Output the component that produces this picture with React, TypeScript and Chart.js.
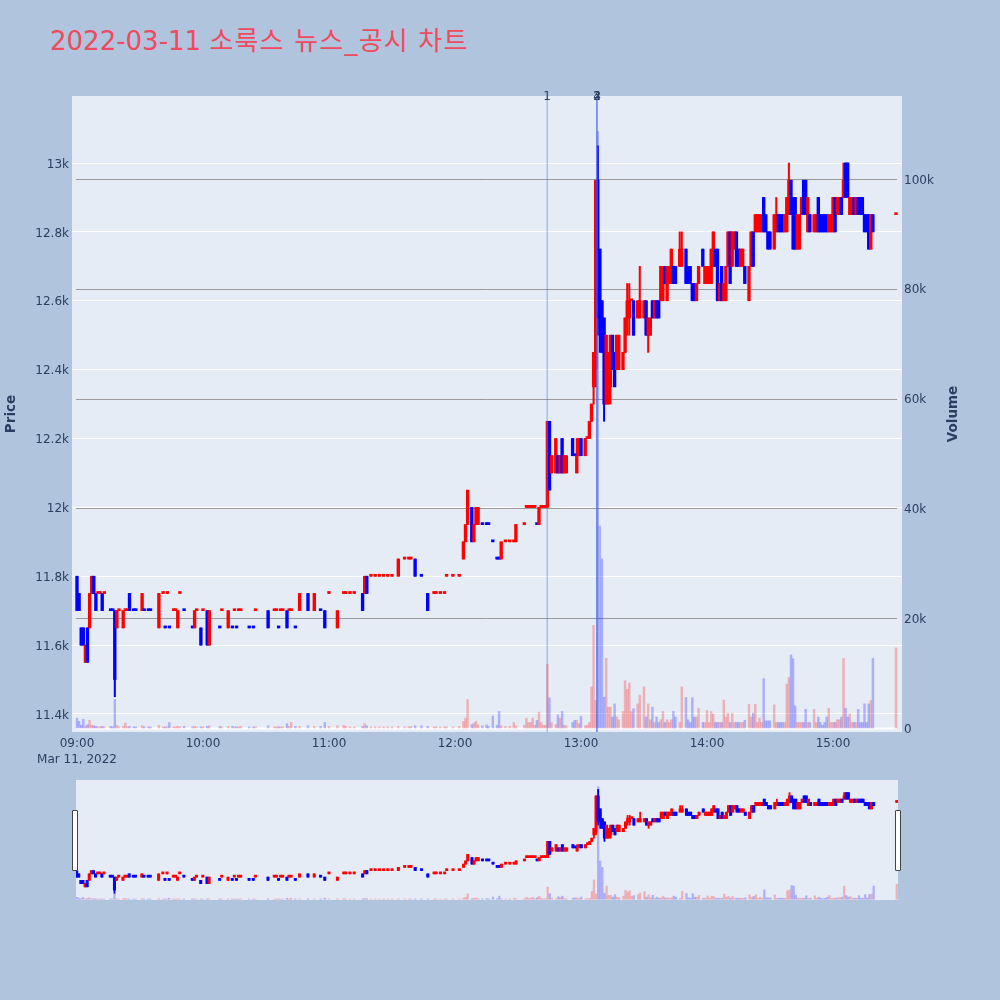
import React, { useEffect, useRef } from 'react';
import { Chart, registerables } from 'chart.js';

Chart.register(...registerables);

// ---- data: minute offset from 09:00, OHLC prices (KRW), volume (thousand shares) ----
const minutes = [
  0, 1, 2, 3, 4, 5, 6, 7, 8, 9,
  10, 11, 12, 13, 16, 17, 18, 19, 20, 22,
  23, 24, 25, 27, 28, 31, 32, 34, 35, 39,
  41, 42, 43, 44, 46, 47, 48, 49, 51, 55,
  56, 57, 59, 60, 62, 63, 68, 69, 72, 74,
  75, 76, 77, 78, 82, 84, 85, 91, 94, 95,
  96, 97, 98, 100, 101, 102, 104, 106, 110, 113,
  116, 118, 120, 124, 127, 128, 130, 132, 136, 137,
  138, 140, 142, 144, 146, 148, 150, 153, 156, 158,
  159, 161, 164, 167, 170, 171, 173, 175, 176, 179,
  182, 184, 185, 186, 188, 189, 190, 191, 193, 195,
  196, 198, 200, 201, 202, 204, 206, 208, 209, 213,
  214, 215, 216, 217, 218, 219, 220, 221, 222, 223,
  224, 225, 226, 228, 229, 230, 231, 232, 233, 236,
  237, 238, 239, 240, 242, 243, 244, 245, 246, 247,
  248, 249, 250, 251, 252, 253, 254, 255, 256, 257,
  258, 260, 261, 262, 263, 264, 265, 267, 268, 270,
  271, 272, 273, 274, 275, 276, 277, 278, 279, 280,
  281, 282, 283, 284, 285, 287, 288, 290, 291, 292,
  293, 294, 295, 296, 298, 299, 300, 301, 302, 303,
  304, 305, 306, 307, 308, 309, 310, 311, 312, 313,
  314, 315, 316, 317, 318, 320, 321, 322, 323, 324,
  325, 326, 327, 328, 329, 330, 332, 333, 334, 335,
  336, 337, 338, 339, 340, 341, 342, 343, 344, 345,
  346, 347, 348, 349, 351, 352, 353, 354, 355, 356,
  357, 358, 359, 360, 361, 362, 363, 364, 365, 366,
  367, 368, 369, 370, 371, 372, 373, 374, 375, 376,
  377, 378, 379, 390,
];

const opens = [
  11800, 11750, 11650, 11650, 11550, 11650, 11650, 11750, 11800, 11750,
  11750, 11750, 11750, 11750, 11700, 11700, 11700, 11650, 11700, 11650,
  11700, 11700, 11750, 11700, 11700, 11700, 11700, 11700, 11700, 11650,
  11750, 11650, 11750, 11650, 11700, 11700, 11650, 11750, 11700, 11650,
  11650, 11700, 11650, 11700, 11700, 11600, 11650, 11700, 11650, 11650,
  11700, 11650, 11700, 11700, 11650, 11650, 11700, 11700, 11700, 11700,
  11650, 11700, 11700, 11700, 11700, 11700, 11650, 11700, 11750, 11700,
  11700, 11700, 11750, 11650, 11750, 11750, 11750, 11750, 11750, 11750,
  11800, 11800, 11800, 11800, 11800, 11800, 11800, 11800, 11850, 11850,
  11850, 11850, 11800, 11750, 11750, 11750, 11750, 11750, 11800, 11800,
  11800, 11850, 11900, 11950, 12000, 11900, 11950, 11950, 11950, 11950,
  11950, 11900, 11850, 11850, 11850, 11900, 11900, 11900, 11900, 11950,
  12000, 12000, 12000, 12000, 12000, 11950, 11950, 12000, 12000, 12000,
  12000, 12250, 12100, 12100, 12150, 12100, 12200, 12100, 12100, 12200,
  12150, 12100, 12150, 12200, 12150, 12200, 12200, 12250, 12350, 12400,
  12950, 12750, 12600, 12550, 12300, 12300, 12350, 12500, 12450, 12400,
  12400, 12400, 12450, 12550, 12550, 12600, 12600, 12550, 12550, 12550,
  12600, 12500, 12500, 12600, 12550, 12600, 12600, 12600, 12600, 12700,
  12600, 12650, 12650, 12700, 12700, 12700, 12700, 12750, 12700, 12700,
  12650, 12650, 12600, 12650, 12750, 12650, 12650, 12650, 12650, 12700,
  12750, 12750, 12600, 12700, 12600, 12600, 12700, 12800, 12700, 12750,
  12800, 12750, 12700, 12700, 12700, 12600, 12700, 12800, 12800, 12800,
  12800, 12800, 12900, 12850, 12800, 12800, 12750, 12800, 12850, 12850,
  12850, 12800, 12800, 12850, 12950, 12900, 12900, 12750, 12750, 12850,
  12950, 12950, 12800, 12850, 12800, 12800, 12900, 12850, 12850, 12850,
  12850, 12800, 12800, 12800, 12900, 12850, 12850, 12900, 12900, 13000,
  13000, 12850, 12850, 12900, 12850, 12900, 12900, 12900, 12850, 12850,
  12850, 12750, 12850, 12850,
];

const highs = [
  11800, 11750, 11650, 11650, 11600, 11650, 11750, 11800, 11800, 11750,
  11750, 11750, 11750, 11750, 11700, 11700, 11700, 11700, 11700, 11700,
  11700, 11700, 11750, 11700, 11700, 11750, 11700, 11700, 11700, 11750,
  11750, 11650, 11750, 11650, 11700, 11700, 11700, 11750, 11700, 11650,
  11700, 11700, 11650, 11700, 11700, 11700, 11650, 11700, 11700, 11650,
  11700, 11650, 11700, 11700, 11650, 11650, 11700, 11700, 11700, 11700,
  11650, 11700, 11700, 11700, 11700, 11700, 11650, 11750, 11750, 11750,
  11700, 11700, 11750, 11700, 11750, 11750, 11750, 11750, 11750, 11800,
  11800, 11800, 11800, 11800, 11800, 11800, 11800, 11850, 11850, 11850,
  11850, 11850, 11800, 11750, 11750, 11750, 11750, 11750, 11800, 11800,
  11800, 11900, 11950, 12050, 12000, 11950, 12000, 12000, 11950, 11950,
  11950, 11900, 11850, 11850, 11900, 11900, 11900, 11900, 11950, 11950,
  12000, 12000, 12000, 12000, 12000, 11950, 12000, 12000, 12000, 12000,
  12250, 12250, 12150, 12200, 12150, 12150, 12200, 12150, 12150, 12200,
  12150, 12200, 12200, 12200, 12200, 12200, 12250, 12300, 12450, 12950,
  13050, 12750, 12600, 12550, 12500, 12450, 12500, 12500, 12450, 12500,
  12500, 12450, 12550, 12650, 12650, 12600, 12600, 12600, 12700, 12600,
  12600, 12550, 12550, 12600, 12600, 12600, 12600, 12700, 12700, 12700,
  12700, 12700, 12750, 12700, 12700, 12800, 12800, 12750, 12700, 12700,
  12650, 12650, 12650, 12700, 12750, 12700, 12700, 12700, 12750, 12800,
  12750, 12750, 12650, 12700, 12650, 12700, 12800, 12800, 12800, 12800,
  12800, 12750, 12750, 12750, 12700, 12700, 12800, 12800, 12850, 12850,
  12850, 12850, 12900, 12850, 12800, 12800, 12850, 12900, 12850, 12850,
  12850, 12850, 12900, 13000, 12950, 12900, 12900, 12850, 12850, 12900,
  12950, 12950, 12900, 12850, 12850, 12850, 12900, 12850, 12850, 12850,
  12850, 12850, 12850, 12900, 12900, 12900, 12900, 12900, 13000, 13000,
  13000, 12900, 12900, 12900, 12900, 12900, 12900, 12900, 12850, 12850,
  12850, 12850, 12850, 12850,
];

const lows = [
  11700, 11700, 11600, 11600, 11550, 11550, 11650, 11750, 11750, 11700,
  11750, 11750, 11700, 11750, 11700, 11700, 11450, 11650, 11700, 11650,
  11700, 11700, 11700, 11700, 11700, 11700, 11700, 11700, 11700, 11650,
  11750, 11650, 11750, 11650, 11700, 11700, 11650, 11750, 11700, 11650,
  11650, 11700, 11600, 11700, 11600, 11600, 11650, 11700, 11650, 11650,
  11700, 11650, 11700, 11700, 11650, 11650, 11700, 11650, 11700, 11700,
  11650, 11700, 11700, 11650, 11700, 11700, 11650, 11700, 11700, 11700,
  11700, 11650, 11750, 11650, 11750, 11750, 11750, 11750, 11700, 11750,
  11750, 11800, 11800, 11800, 11800, 11800, 11800, 11800, 11850, 11850,
  11850, 11800, 11800, 11700, 11750, 11750, 11750, 11750, 11800, 11800,
  11800, 11850, 11900, 11950, 11900, 11900, 11950, 11950, 11950, 11950,
  11950, 11900, 11850, 11850, 11850, 11900, 11900, 11900, 11900, 11950,
  12000, 12000, 12000, 12000, 12000, 11950, 11950, 12000, 12000, 12000,
  12000, 12050, 12100, 12100, 12100, 12100, 12100, 12100, 12100, 12150,
  12150, 12100, 12150, 12150, 12150, 12200, 12200, 12250, 12300, 12350,
  12500, 12450, 12450, 12250, 12300, 12300, 12300, 12400, 12350, 12400,
  12400, 12400, 12450, 12500, 12500, 12600, 12500, 12550, 12550, 12550,
  12500, 12450, 12500, 12550, 12550, 12550, 12550, 12600, 12600, 12650,
  12600, 12650, 12650, 12650, 12650, 12700, 12700, 12650, 12650, 12650,
  12600, 12600, 12600, 12650, 12700, 12650, 12650, 12650, 12650, 12700,
  12700, 12600, 12600, 12600, 12600, 12600, 12700, 12650, 12700, 12750,
  12700, 12700, 12700, 12700, 12650, 12600, 12700, 12700, 12800, 12800,
  12800, 12800, 12800, 12800, 12750, 12750, 12750, 12800, 12800, 12800,
  12800, 12800, 12800, 12850, 12850, 12750, 12750, 12750, 12750, 12850,
  12850, 12850, 12800, 12800, 12800, 12800, 12800, 12800, 12800, 12800,
  12800, 12800, 12800, 12800, 12800, 12850, 12850, 12850, 12900, 12900,
  12900, 12850, 12850, 12850, 12850, 12850, 12850, 12850, 12800, 12800,
  12750, 12750, 12800, 12850,
];

const closes = [
  11700, 11700, 11600, 11600, 11600, 11550, 11750, 11800, 11750, 11700,
  11750, 11750, 11700, 11750, 11700, 11700, 11500, 11700, 11700, 11700,
  11700, 11700, 11700, 11700, 11700, 11750, 11700, 11700, 11700, 11750,
  11750, 11650, 11750, 11650, 11700, 11700, 11700, 11750, 11700, 11650,
  11700, 11700, 11600, 11700, 11600, 11700, 11650, 11700, 11700, 11650,
  11700, 11650, 11700, 11700, 11650, 11650, 11700, 11650, 11700, 11700,
  11650, 11700, 11700, 11650, 11700, 11700, 11650, 11750, 11700, 11750,
  11700, 11650, 11750, 11700, 11750, 11750, 11750, 11750, 11700, 11800,
  11750, 11800, 11800, 11800, 11800, 11800, 11800, 11850, 11850, 11850,
  11850, 11800, 11800, 11700, 11750, 11750, 11750, 11750, 11800, 11800,
  11800, 11900, 11950, 12050, 11900, 11950, 12000, 12000, 11950, 11950,
  11950, 11900, 11850, 11850, 11900, 11900, 11900, 11900, 11950, 11950,
  12000, 12000, 12000, 12000, 12000, 11950, 12000, 12000, 12000, 12000,
  12250, 12050, 12150, 12200, 12100, 12150, 12100, 12150, 12150, 12150,
  12150, 12150, 12200, 12150, 12200, 12200, 12250, 12300, 12450, 12950,
  12550, 12550, 12450, 12300, 12500, 12450, 12500, 12400, 12350, 12500,
  12500, 12450, 12550, 12600, 12600, 12600, 12500, 12600, 12600, 12600,
  12500, 12550, 12550, 12550, 12600, 12550, 12550, 12700, 12700, 12650,
  12700, 12700, 12750, 12650, 12650, 12750, 12750, 12650, 12650, 12650,
  12600, 12600, 12650, 12700, 12700, 12700, 12700, 12700, 12750, 12800,
  12700, 12600, 12650, 12600, 12650, 12700, 12800, 12650, 12800, 12800,
  12700, 12700, 12750, 12750, 12650, 12700, 12800, 12700, 12850, 12850,
  12850, 12850, 12800, 12800, 12750, 12750, 12850, 12850, 12800, 12800,
  12800, 12850, 12900, 12950, 12850, 12750, 12750, 12850, 12850, 12900,
  12850, 12850, 12900, 12800, 12850, 12850, 12800, 12800, 12800, 12800,
  12800, 12850, 12850, 12900, 12800, 12900, 12900, 12850, 12950, 12900,
  12900, 12900, 12900, 12850, 12900, 12850, 12850, 12850, 12800, 12800,
  12750, 12850, 12800, 12850,
];

const volumesK = [
  1.8, 1.2, 0.5, 1.6, 0.4, 0.6, 1.4, 0.5, 0.4, 0.3,
  0.2, 0.2, 0.3, 0.2, 0.3, 0.2, 5.2, 0.5, 0.2, 0.3,
  0.9, 0.2, 0.3, 0.2, 0.2, 0.4, 0.2, 0.2, 0.2, 0.5,
  0.2, 0.2, 0.2, 1.0, 0.2, 0.2, 0.3, 0.2, 0.3, 0.2,
  0.3, 0.2, 0.2, 0.2, 0.3, 0.4, 0.3, 0.2, 0.3, 0.3,
  0.2, 0.2, 0.2, 0.3, 0.2, 0.2, 0.2, 0.4, 0.2, 0.2,
  0.2, 0.2, 0.2, 0.8, 0.3, 1.0, 0.3, 0.3, 0.4, 0.3,
  0.3, 1.0, 0.3, 0.4, 0.5, 0.3, 0.2, 0.2, 0.3, 0.8,
  0.4, 0.2, 0.2, 0.2, 0.2, 0.2, 0.2, 0.3, 0.2, 0.2,
  0.3, 0.4, 0.4, 0.3, 0.2, 0.2, 0.2, 0.2, 0.2, 0.2,
  0.3, 1.2, 1.8, 5.2, 0.6, 0.9, 1.2, 0.6, 0.4, 0.6,
  0.3, 2.2, 0.5, 3.0, 0.4, 0.3, 0.3, 1.0, 0.4, 0.5,
  1.8, 1.0, 1.0, 1.8, 0.5, 1.4, 2.9, 1.0, 0.5, 0.5,
  11.6, 5.5, 1.0, 0.6, 2.4, 1.8, 3.0, 0.5, 0.4, 1.0,
  1.4, 1.4, 0.8, 2.1, 0.4, 0.5, 1.0, 7.5, 18.7, 5.0,
  108.7, 36.8, 30.8, 5.6, 12.7, 3.8, 3.8, 2.0, 4.4, 2.0,
  1.5, 3.0, 8.6, 7.0, 8.2, 3.0, 3.5, 4.4, 6.0, 7.5,
  2.0, 4.4, 1.5, 3.8, 1.0, 2.0, 1.0, 1.5, 3.0, 1.0,
  1.5, 1.0, 1.5, 3.0, 2.0, 1.0, 7.5, 5.6, 1.5, 1.0,
  5.5, 2.0, 2.0, 3.6, 1.0, 1.0, 3.2, 1.0, 3.0, 2.5,
  1.0, 1.0, 1.0, 1.0, 5.1, 2.0, 2.7, 1.0, 2.7, 1.0,
  1.0, 1.0, 1.0, 1.0, 1.4, 4.3, 2.0, 2.7, 4.3, 1.0,
  1.8, 1.0, 9.0, 1.3, 1.3, 1.3, 4.2, 1.0, 1.0, 1.0,
  1.0, 1.0, 8.0, 9.2, 13.3, 12.6, 4.0, 1.0, 1.0, 1.0,
  1.0, 3.4, 1.0, 1.0, 3.4, 1.0, 2.0, 1.0, 0.5, 1.0,
  2.0, 3.6, 1.0, 1.0, 1.0, 1.5, 1.5, 2.0, 12.7, 3.6,
  2.0, 2.6, 1.0, 1.0, 1.0, 3.4, 1.0, 1.0, 4.4, 1.0,
  4.4, 5.0, 12.7, 14.6,
];

// news / disclosure markers (minutes after 09:00)
const eventMinutes = [223.9, 247.6, 247.6, 247.6];
const eventLabels = ['1', '2', '3', '4'];

const xTickValues = [0, 60, 120, 180, 240, 300, 360];
const xTickLabels = ['09:00', '10:00', '11:00', '12:00', '13:00', '14:00', '15:00'];
const dateLabel = 'Mar 11, 2022';
const priceTicks = [11400, 11600, 11800, 12000, 12200, 12400, 12600, 12800, 13000];
const priceTickLabels = ['11.4k', '11.6k', '11.8k', '12k', '12.2k', '12.4k', '12.6k', '12.8k', '13k'];
const volumeTicks = [0, 20, 40, 60, 80, 100];
const volumeTickLabels = ['0', '20k', '40k', '60k', '80k', '100k'];

const titleDate = '2022-03-11';
const titleName = '소룩스 뉴스_공시 차트';

// ---- styling ----
const PRICE_MIN = 11347.7;
const PRICE_MAX = 13194.6;
const VOL_MIN = -0.73;
const VOL_MAX = 115.12;
const X_MIN = -2.38;
const X_MAX = 392.86;
const SLIDER_X_MIN = -0.3;
const SLIDER_X_MAX = 390.6;

const UP = '#ff0000';
const DOWN = '#0000ff';
const UP_VOL = 'rgba(255,0,0,0.25)';
const DOWN_VOL = 'rgba(0,0,255,0.25)';
const PLOT_BG = '#e5ecf6';
const PAGE_BG = '#b0c4de';
const TEXT = '#2a3f5f';
const VOL_GRID = '#9a9a9a';
const FONT = "'DejaVu Sans', 'Noto Sans CJK KR', sans-serif";

function directions(): number[] {
  const out: number[] = [];
  let prevDir = -1;
  for (let i = 0; i < minutes.length; i++) {
    const o = opens[i];
    const c = closes[i];
    const pc = i > 0 ? closes[i - 1] : c;
    let d: number;
    if (c > o) d = 1;
    else if (c < o) d = -1;
    else if (c > pc) d = 1;
    else if (c < pc) d = -1;
    else d = prevDir;
    out.push(d);
    prevDir = d;
  }
  return out;
}

function makeDatasets(bodyW: number, wickW: number, volW: number) {
  const dirs = directions();
  const colors = dirs.map((d) => (d > 0 ? UP : DOWN));
  const volColors = dirs.map((d) => (d > 0 ? UP_VOL : DOWN_VOL));
  return [
    {
      type: 'bar',
      data: minutes.map((m, i) => ({ x: m, y: volumesK[i] })),
      yAxisID: 'y2',
      backgroundColor: volColors,
      barThickness: volW,
      grouped: false,
      order: 3,
      borderWidth: 0,
    },
    {
      type: 'bar',
      data: minutes.map((m, i) => ({ x: m, y: [lows[i], highs[i]] })),
      yAxisID: 'y',
      backgroundColor: colors,
      barThickness: wickW,
      grouped: false,
      order: 2,
      borderWidth: 0,
      minBarLength: 1,
    },
    {
      type: 'bar',
      data: minutes.map((m, i) => ({
        x: m,
        y: [Math.min(opens[i], closes[i]), Math.max(opens[i], closes[i])],
      })),
      yAxisID: 'y',
      backgroundColor: colors,
      barThickness: bodyW,
      grouped: false,
      order: 1,
      borderWidth: 0,
      minBarLength: 2,
    },
  ];
}

const plotBgPlugin = {
  id: 'plotBg',
  beforeDraw(chart: any) {
    const { ctx, chartArea } = chart;
    ctx.save();
    ctx.fillStyle = PLOT_BG;
    ctx.fillRect(chartArea.left, chartArea.top, chartArea.right - chartArea.left, chartArea.bottom - chartArea.top);
    ctx.restore();
  },
};

// volume grid lines span the traded-minute range, zero line in white
const volumeGridPlugin = {
  id: 'volumeGrid',
  beforeDatasetsDraw(chart: any) {
    const { ctx, scales } = chart;
    const x0 = scales.x.getPixelForValue(minutes[0] - 0.5);
    const x1 = scales.x.getPixelForValue(minutes[minutes.length - 1] + 0.5);
    ctx.save();
    volumeTicks.forEach((v) => {
      const y = Math.round(scales.y2.getPixelForValue(v)) + 0.5;
      ctx.strokeStyle = v === 0 ? '#ffffff' : VOL_GRID;
      ctx.lineWidth = v === 0 ? 2 : 1;
      ctx.beginPath();
      ctx.moveTo(x0, y);
      ctx.lineTo(x1, y);
      ctx.stroke();
    });
    ctx.restore();
  },
};

const overlayPlugin = {
  id: 'overlay',
  afterDatasetsDraw(chart: any) {
    const { ctx, chartArea, scales } = chart;
    ctx.save();
    ctx.strokeStyle = 'rgba(65,105,225,0.55)';
    ctx.lineWidth = 1;
    eventMinutes.forEach((m) => {
      const x = scales.x.getPixelForValue(m);
      ctx.beginPath();
      ctx.moveTo(x, chartArea.top);
      ctx.lineTo(x, chartArea.bottom);
      ctx.stroke();
    });
    ctx.fillStyle = TEXT;
    ctx.font = `12px ${FONT}`;
    ctx.textAlign = 'center';
    ctx.textBaseline = 'middle';
    eventMinutes.forEach((m, i) => {
      const x = scales.x.getPixelForValue(m);
      ctx.fillText(eventLabels[i], x, chartArea.top + 1);
    });
    // axis titles (both read bottom-to-top)
    const midY = (chartArea.top + chartArea.bottom) / 2;
    ctx.font = `bold 13.5px ${FONT}`;
    ctx.save();
    ctx.translate(chartArea.left - 61, midY);
    ctx.rotate(-Math.PI / 2);
    ctx.fillText('Price', 0, 0);
    ctx.restore();
    ctx.save();
    ctx.translate(chartArea.right + 51, midY);
    ctx.rotate(-Math.PI / 2);
    ctx.fillText('Volume', 0, 0);
    ctx.restore();
    ctx.restore();
  },
};

export default function App() {
  const mainRef = useRef<HTMLCanvasElement>(null);
  const sliderRef = useRef<HTMLCanvasElement>(null);

  useEffect(() => {
    Chart.defaults.font.family = FONT;
    const main = new Chart(mainRef.current as HTMLCanvasElement, {
      type: 'bar',
      data: { datasets: makeDatasets(2.7, 1.4, 1.8) as any },
      plugins: [plotBgPlugin, volumeGridPlugin, overlayPlugin],
      options: {
        animation: false,
        responsive: false,
        events: [],
        layout: { padding: { left: 0, right: 35, top: 96, bottom: 0 } },
        plugins: { legend: { display: false }, tooltip: { enabled: false }, title: { display: false } },
        scales: {
          x: {
            type: 'linear',
            min: X_MIN,
            max: X_MAX,
            offset: false,
            grid: { display: false, drawTicks: false, tickLength: 0 },
            border: { display: false },
            afterBuildTicks: (s: any) => {
              s.ticks = xTickValues.map((v) => ({ value: v }));
            },
            afterFit: (s: any) => {
              s.height = 40;
            },
            ticks: {
              autoSkip: false,
              maxRotation: 0,
              minRotation: 0,
              padding: 3,
              color: TEXT,
              font: { size: 12, lineHeight: 1.4 },
              callback: (_v: any, i: number) => (i === 0 ? [xTickLabels[i], dateLabel] : xTickLabels[i]),
            },
          },
          y: {
            type: 'linear',
            position: 'left',
            min: PRICE_MIN,
            max: PRICE_MAX,
            afterBuildTicks: (s: any) => {
              s.ticks = priceTicks.map((v) => ({ value: v }));
            },
            afterFit: (s: any) => {
              s.width = 72;
            },
            grid: { color: '#ffffff', lineWidth: 1, drawTicks: false },
            border: { display: false },
            ticks: {
              padding: 3,
              labelOffset: 1.5,
              color: TEXT,
              font: { size: 12 },
              callback: (_v: any, i: number) => priceTickLabels[i],
            },
          },
          y2: {
            type: 'linear',
            position: 'right',
            min: VOL_MIN,
            max: VOL_MAX,
            afterBuildTicks: (s: any) => {
              s.ticks = volumeTicks.map((v) => ({ value: v }));
            },
            afterFit: (s: any) => {
              s.width = 63;
            },
            grid: { display: false, drawTicks: false },
            border: { display: false },
            ticks: {
              padding: 2,
              labelOffset: 1.5,
              color: TEXT,
              font: { size: 12 },
              callback: (_v: any, i: number) => volumeTickLabels[i],
            },
          },
        },
      } as any,
    });

    const slider = new Chart(sliderRef.current as HTMLCanvasElement, {
      type: 'bar',
      data: { datasets: makeDatasets(2.4, 1.2, 1.6) as any },
      options: {
        animation: false,
        responsive: false,
        events: [],
        layout: { padding: 0 },
        plugins: { legend: { display: false }, tooltip: { enabled: false } },
        scales: {
          x: { type: 'linear', min: SLIDER_X_MIN, max: SLIDER_X_MAX, offset: false, display: false },
          y: { type: 'linear', min: PRICE_MIN, max: PRICE_MAX, display: false },
          y2: { type: 'linear', min: VOL_MIN, max: VOL_MAX, display: false },
        },
      } as any,
    });

    return () => {
      main.destroy();
      slider.destroy();
    };
  }, []);

  const handle = (left: number) => (
    <div
      style={{
        position: 'absolute',
        left,
        top: 810,
        width: 4,
        height: 59,
        background: '#ffffff',
        border: '1px solid #444444',
        borderRadius: 1,
      }}
    />
  );

  return (
    <div
      style={{
        position: 'fixed',
        left: 0,
        top: 0,
        width: 1000,
        height: 1000,
        background: PAGE_BG,
        overflow: 'hidden',
        fontFamily: FONT,
      }}
    >
      <div
        style={{
          position: 'absolute',
          left: 50,
          top: 24,
          fontSize: 26,
          lineHeight: '34px',
          color: '#ef4a5d',
          whiteSpace: 'nowrap',
        }}
      >
        {titleDate} <span style={{ letterSpacing: '1.2px' }}>{titleName}</span>
      </div>
      <canvas ref={mainRef} width={1000} height={772} style={{ position: 'absolute', left: 0, top: 0 }} />
      <canvas
        ref={sliderRef}
        width={822}
        height={120}
        style={{ position: 'absolute', left: 76, top: 780, background: PLOT_BG }}
      />
      {handle(72)}
      {handle(895)}
    </div>
  );
}
